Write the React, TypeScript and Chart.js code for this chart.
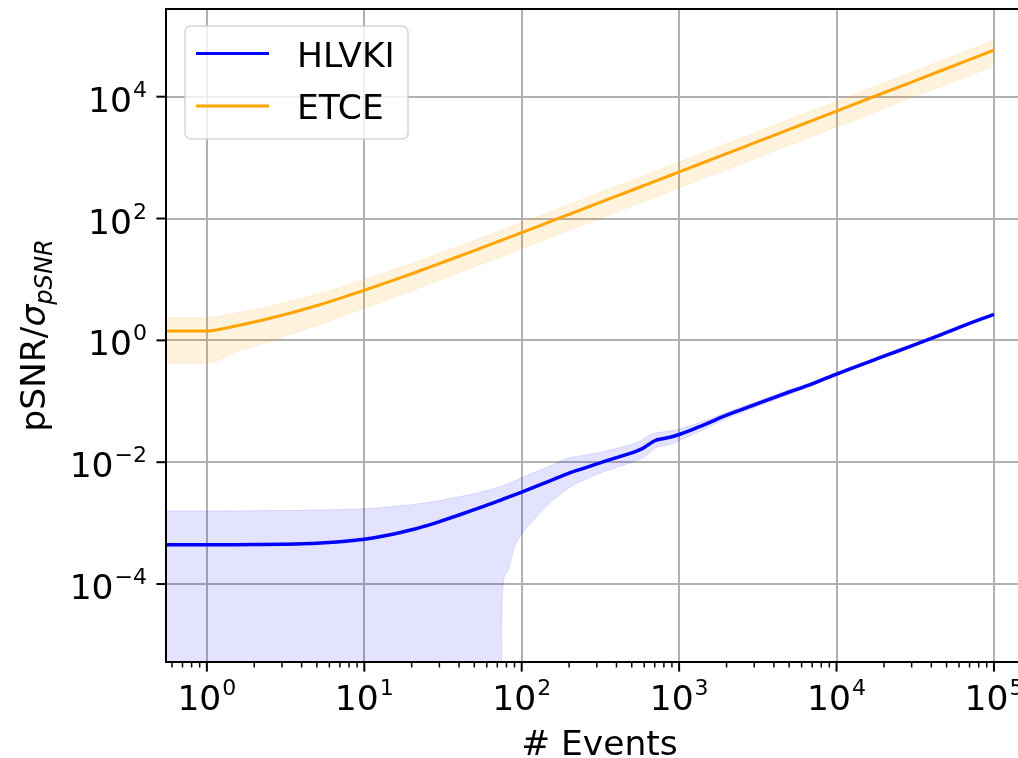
import React, { useEffect, useRef } from 'react';
import { Chart, registerables } from 'chart.js';

Chart.register(...registerables);

// Number of events (x values shared by every series)
const events = [
  0.55, 1, 1.5, 2, 3, 5, 7, 10, 13, 17, 20, 25, 30, 40, 50, 60, 70, 73, 75, 80,
  90, 100, 120, 150, 200, 250, 300, 400, 500, 550, 600, 650, 700, 800, 900, 1000,
  1200, 1500, 2000, 3000, 4000, 5000, 7000, 1e4, 2e4, 3e4, 5e4, 7e4, 1e5,
];

// HLVKI: mean pSNR/sigma and its spread (0 = lower bound at or below zero)
const hlvkiMean = [
  4.4e-4, 4.41e-4, 4.43e-4, 4.45e-4, 4.5e-4, 4.66e-4, 4.93e-4, 5.44e-4, 6.07e-4, 7.0e-4,
  7.77e-4, 9.1e-4, 1.06e-3, 1.36e-3, 1.66e-3, 1.97e-3, 2.28e-3, 2.37e-3, 2.44e-3, 2.6e-3,
  2.91e-3, 3.23e-3, 3.9e-3, 4.9e-3, 6.6e-3, 8.0e-3, 9.4e-3, 1.19e-2, 1.42e-2, 1.56e-2,
  1.75e-2, 2.0e-2, 2.25e-2, 2.45e-2, 2.62e-2, 2.85e-2, 3.4e-2, 4.3e-2, 5.9e-2, 8.7e-2,
  0.115, 0.142, 0.193, 0.28, 0.55, 0.81, 1.35, 1.9, 2.66,
];
const hlvkiUpper = [
  1.58e-3, 1.58e-3, 1.59e-3, 1.6e-3, 1.61e-3, 1.64e-3, 1.67e-3, 1.72e-3, 1.8e-3, 1.92e-3,
  2.0e-3, 2.17e-3, 2.35e-3, 2.7e-3, 3.05e-3, 3.45e-3, 3.85e-3, 3.97e-3, 4.05e-3, 4.3e-3,
  4.9e-3, 5.6e-3, 6.8e-3, 8.6e-3, 1.17e-2, 1.3e-2, 1.42e-2, 1.68e-2, 1.98e-2, 2.17e-2,
  2.45e-2, 2.8e-2, 3.0e-2, 3.15e-2, 3.3e-2, 3.5e-2, 4.05e-2, 4.95e-2, 6.6e-2, 9.6e-2,
  0.126, 0.155, 0.207, 0.298, 0.575, 0.84, 1.39, 1.95, 2.72,
];
const hlvkiLower = [
  0, 0, 0, 0, 0, 0, 0, 0, 0, 0,
  0, 0, 0, 0, 0, 0, 0, 0, 5e-5, 1.5e-4,
  4.0e-4, 6.6e-4, 1.15e-3, 2.1e-3, 3.8e-3, 5.1e-3, 6.3e-3, 8.2e-3, 1.0e-2, 1.1e-2,
  1.2e-2, 1.45e-2, 1.7e-2, 1.85e-2, 2.0e-2, 2.25e-2, 2.8e-2, 3.65e-2, 5.2e-2, 7.8e-2,
  0.104, 0.129, 0.179, 0.262, 0.525, 0.78, 1.31, 1.85, 2.6,
];

// ETCE: mean pSNR/sigma and its spread
const etceMean = [
  1.42, 1.42, 1.71, 2.0, 2.58, 3.74, 4.9, 6.64, 8.38, 10.7,
  12.4, 15.3, 18.2, 24, 29.8, 35.6, 41.4, 43.2, 44.3, 47.2,
  53, 58.8, 70.4, 87.8, 117, 146, 175, 233, 291, 320,
  349, 378, 407, 465, 523, 581, 697, 871, 1160, 1740,
  2320, 2900, 4060, 5800, 11600, 17400, 29000, 40600, 58000,
];
const etceUpper = [
  2.36, 2.36, 2.78, 3.2, 4.04, 5.72, 7.4, 9.93, 12.45, 15.8,
  18.3, 22.5, 26.7, 35.1, 43.5, 51.9, 60.3, 62.9, 64.5, 68.7,
  77.2, 85.6, 102.4, 127.6, 170, 212, 254, 338, 422, 464,
  506, 548, 590, 674, 758, 843, 1011, 1263, 1682, 2523,
  3364, 4205, 5887, 8410, 16820, 25230, 42050, 58870, 84100,
];
const etceLower = [
  0.42, 0.42, 0.64, 0.8, 1.12, 1.76, 2.4, 3.35, 4.31, 5.58,
  6.52, 8.1, 9.7, 12.9, 16.1, 19.3, 22.5, 23.5, 24.1, 25.7,
  28.9, 32, 38.4, 48, 64, 80, 96, 128, 160, 176,
  192, 208, 224, 256, 288, 319, 383, 479, 638, 957,
  1276, 1595, 2233, 3190, 6380, 9570, 15950, 22330, 31900,
];

// Axis ranges and tick positions
const xRange = [0.55, 1.77e5];
const yRange = [5.25e-6, 2.75e5];
const xMajorTicks = [1, 10, 100, 1000, 1e4, 1e5];
const xTickExponents = ['0', '1', '2', '3', '4', '5'];
const yMajorTicks = [1e-4, 1e-2, 1, 1e2, 1e4];
const yTickExponents = ['\u22124', '\u22122', '0', '2', '4'];

// a log axis cannot show values <= 0; such bounds are pushed far below the visible range
const LOG_FLOOR = 1e-12;

const FONT = '"DejaVu Sans", "Noto Sans", sans-serif';
const MAIN = 34.5;
const SUP = 22;

const toPoints = (ys: number[]) =>
  events.map((x, i) => ({ x, y: ys[i] > 0 ? ys[i] : LOG_FLOOR }));

function drawPower(
  ctx: CanvasRenderingContext2D,
  exp: string,
  x: number,
  baseline: number,
  align: 'center' | 'right'
) {
  ctx.font = `${MAIN}px ${FONT}`;
  const w1 = ctx.measureText('10').width;
  ctx.font = `${SUP}px ${FONT}`;
  const w2 = ctx.measureText(exp).width;
  const total = w1 + w2 + 1;
  const left = align === 'center' ? x - total / 2 : x - total;
  ctx.textAlign = 'left';
  ctx.textBaseline = 'alphabetic';
  ctx.font = `${MAIN}px ${FONT}`;
  ctx.fillText('10', left, baseline);
  ctx.font = `${SUP}px ${FONT}`;
  ctx.fillText(exp, left + w1 + 1, baseline - 15);
}

const axesDecor = {
  id: 'axesDecor',
  afterDraw(chart: any) {
    const { ctx, chartArea: a, scales } = chart;
    const xs = scales.x;
    const ys = scales.y;
    ctx.save();
    ctx.fillStyle = '#000';
    ctx.strokeStyle = '#000';

    // x minor ticks
    ctx.lineWidth = 1.5;
    for (let k = -1; k <= 5; k++) {
      for (let m = 2; m <= 9; m++) {
        const v = m * Math.pow(10, k);
        if (v < xRange[0] || v > xRange[1]) continue;
        const px = xs.getPixelForValue(v);
        ctx.beginPath();
        ctx.moveTo(px, a.bottom);
        ctx.lineTo(px, a.bottom + 5.5);
        ctx.stroke();
      }
    }
    // x major ticks and labels
    ctx.lineWidth = 2;
    xMajorTicks.forEach((v, i) => {
      const px = xs.getPixelForValue(v);
      ctx.beginPath();
      ctx.moveTo(px, a.bottom);
      ctx.lineTo(px, a.bottom + 9.6);
      ctx.stroke();
      drawPower(ctx, xTickExponents[i], px, a.bottom + 48, 'center');
    });
    // y major ticks and labels
    yMajorTicks.forEach((v, i) => {
      const py = ys.getPixelForValue(v);
      ctx.beginPath();
      ctx.moveTo(a.left - 9.6, py);
      ctx.lineTo(a.left, py);
      ctx.stroke();
      drawPower(ctx, yTickExponents[i], a.left - 19, py + 15, 'right');
    });

    // frame
    ctx.lineWidth = 2;
    ctx.strokeRect(a.left, a.top, a.right - a.left, a.bottom - a.top);

    // x axis title
    ctx.font = `${MAIN}px ${FONT}`;
    ctx.textAlign = 'center';
    ctx.textBaseline = 'alphabetic';
    ctx.fillText('# Events', (a.left + a.right) / 2, 755);

    // y axis title: pSNR/σ_{pSNR}
    const mainFont = `${MAIN}px ${FONT}`;
    const italFont = `italic ${MAIN}px ${FONT}`;
    const subFont = `italic ${MAIN * 0.7}px ${FONT}`;
    ctx.font = mainFont;
    const wA = ctx.measureText('pSNR/').width;
    ctx.font = italFont;
    const wB = ctx.measureText('\u03c3').width;
    ctx.font = subFont;
    const wC = ctx.measureText('pSNR').width;
    const total = wA + wB + wC;
    ctx.save();
    ctx.translate(45, (a.top + a.bottom) / 2);
    ctx.rotate(-Math.PI / 2);
    ctx.textAlign = 'left';
    let cx = -total / 2;
    ctx.font = mainFont;
    ctx.fillText('pSNR/', cx, 0);
    cx += wA;
    ctx.font = italFont;
    ctx.fillText('\u03c3', cx, 0);
    cx += wB;
    ctx.font = subFont;
    ctx.fillText('pSNR', cx, 7);
    ctx.restore();

    // legend
    const lx = 185, ly = 26, lw = 223, lh = 113, r = 6;
    ctx.beginPath();
    ctx.moveTo(lx + r, ly);
    ctx.arcTo(lx + lw, ly, lx + lw, ly + lh, r);
    ctx.arcTo(lx + lw, ly + lh, lx, ly + lh, r);
    ctx.arcTo(lx, ly + lh, lx, ly, r);
    ctx.arcTo(lx, ly, lx + lw, ly, r);
    ctx.closePath();
    ctx.fillStyle = 'rgba(255,255,255,0.8)';
    ctx.fill();
    ctx.strokeStyle = 'rgba(204,204,204,0.8)';
    ctx.lineWidth = 1.5;
    ctx.stroke();
    const entries = [chart.data.datasets[4], chart.data.datasets[5]];
    const rows = [53.5, 106];
    entries.forEach((ds: any, i: number) => {
      ctx.strokeStyle = ds.borderColor;
      ctx.lineWidth = 3;
      ctx.beginPath();
      ctx.moveTo(196, rows[i]);
      ctx.lineTo(269, rows[i]);
      ctx.stroke();
      ctx.fillStyle = '#000';
      ctx.font = `${MAIN}px ${FONT}`;
      ctx.textAlign = 'left';
      ctx.textBaseline = 'alphabetic';
      ctx.fillText(ds.label, 297, rows[i] + 13);
    });
    ctx.restore();
  },
};

export default function App() {
  const ref = useRef<HTMLCanvasElement | null>(null);

  useEffect(() => {
    if (!ref.current) return;
    const band = (color: string, ys: number[], fill: any) => ({
      data: toPoints(ys),
      borderColor: color,
      backgroundColor: color,
      borderWidth: 1,
      pointRadius: 0,
      fill,
      cubicInterpolationMode: 'monotone' as const,
    });
    const chart = new Chart(ref.current, {
      type: 'line',
      data: {
        datasets: [
          band('rgba(0,0,255,0.11)', hlvkiUpper, '+1'),
          band('rgba(0,0,255,0.11)', hlvkiLower, false),
          band('rgba(255,165,0,0.13)', etceUpper, '+1'),
          band('rgba(255,165,0,0.13)', etceLower, false),
          {
            label: 'HLVKI',
            data: toPoints(hlvkiMean),
            borderColor: '#0000ff',
            borderWidth: 3.5,
            pointRadius: 0,
            fill: false,
            cubicInterpolationMode: 'monotone',
          },
          {
            label: 'ETCE',
            data: toPoints(etceMean),
            borderColor: '#ffa500',
            borderWidth: 3,
            pointRadius: 0,
            fill: false,
            cubicInterpolationMode: 'monotone',
          },
        ] as any,
      },
      options: {
        responsive: false,
        animation: false,
        devicePixelRatio: 1,
        events: [],
        layout: { padding: { top: 9, right: 7, left: 0, bottom: 0 } },
        plugins: { legend: { display: false }, tooltip: { enabled: false } },
        scales: {
          x: {
            type: 'logarithmic',
            min: xRange[0],
            max: xRange[1],
            afterBuildTicks: (s: any) => {
              s.ticks = xMajorTicks.map((v) => ({ value: v, major: true }));
            },
            afterFit: (s: any) => {
              s.height = 96;
            },
            ticks: { display: false },
            border: { display: false },
            grid: { color: '#b0b0b0', lineWidth: 2, drawTicks: false },
          },
          y: {
            type: 'logarithmic',
            min: yRange[0],
            max: yRange[1],
            afterBuildTicks: (s: any) => {
              s.ticks = yMajorTicks.map((v) => ({ value: v, major: true }));
            },
            afterFit: (s: any) => {
              s.width = 166;
            },
            ticks: { display: false },
            border: { display: false },
            grid: { color: '#b0b0b0', lineWidth: 2, drawTicks: false },
          },
        },
      } as any,
      plugins: [axesDecor],
    });
    return () => chart.destroy();
  }, []);

  return (
    <div
      style={{
        position: 'fixed',
        left: 0,
        top: 0,
        width: 1018,
        height: 758,
        overflow: 'hidden',
        background: '#fff',
      }}
    >
      <canvas ref={ref} width={1040} height={758} style={{ display: 'block' }} />
    </div>
  );
}
